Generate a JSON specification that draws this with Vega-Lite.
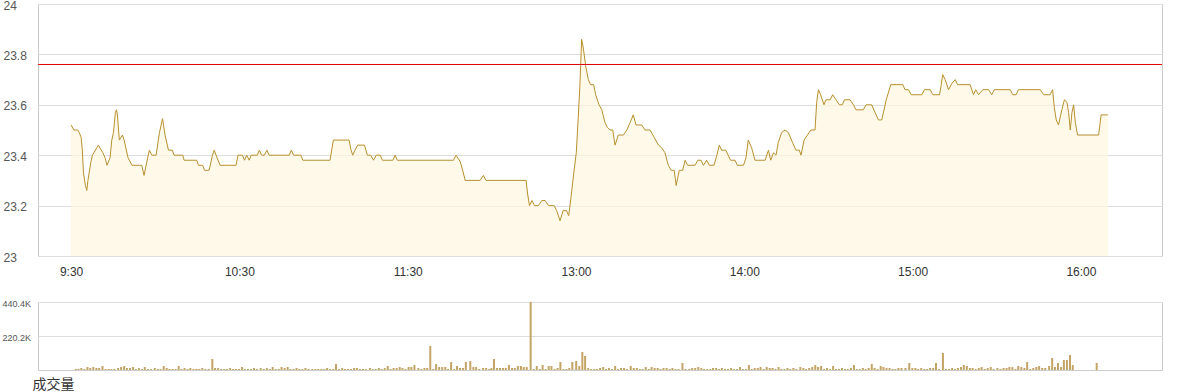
{
"$schema": "https://vega.github.io/schema/vega-lite/v6.json",
"padding": {"left": 1, "top": -2, "right": 10, "bottom": 6},
"background": "white",
"bounds": "flush",
"spacing": 46,
"config": {
  "view": {"stroke": "#cccccc"},
  "font": "Liberation Sans",
  "axis": {"domain": false, "ticks": false, "tickSize": 0, "gridColor": "#dddddd", "gridWidth": 1, "labelFont": "Liberation Sans"}
},
"datasets": {
"price": [
{"t":0,"price":23.52},{"t":1,"price":23.50},{"t":2.4,"price":23.50},{"t":2.9,"price":23.49},{"t":3.6,"price":23.47},{"t":4,"price":23.42},{"t":4.4,"price":23.33},{"t":5.1,"price":23.28},{"t":5.6,"price":23.26},{"t":6,"price":23.30},{"t":7,"price":23.37},{"t":7.6,"price":23.40},{"t":9.2,"price":23.43},{"t":9.7,"price":23.44},{"t":11.3,"price":23.41},{"t":12.1,"price":23.39},{"t":12.8,"price":23.36},{"t":13.9,"price":23.39},{"t":14.5,"price":23.46},{"t":15.1,"price":23.49},{"t":15.8,"price":23.57},{"t":16.2,"price":23.58},{"t":16.5,"price":23.56},{"t":17.2,"price":23.46},{"t":18.3,"price":23.48},{"t":18.9,"price":23.46},{"t":20.3,"price":23.39},{"t":21.7,"price":23.36},{"t":25.2,"price":23.36},{"t":26,"price":23.32},{"t":27.3,"price":23.39},{"t":27.9,"price":23.42},{"t":28.8,"price":23.40},{"t":30.3,"price":23.40},{"t":31.5,"price":23.49},{"t":32.6,"price":23.545},{"t":33.5,"price":23.48},{"t":34.7,"price":23.42},{"t":36.1,"price":23.42},{"t":36.7,"price":23.40},{"t":39.8,"price":23.40},{"t":40.3,"price":23.38},{"t":44.8,"price":23.38},{"t":45.4,"price":23.36},{"t":46.9,"price":23.36},{"t":47.6,"price":23.34},{"t":49.2,"price":23.34},{"t":50.4,"price":23.40},{"t":51,"price":23.42},{"t":51.7,"price":23.40},{"t":53.1,"price":23.36},{"t":58.8,"price":23.36},{"t":59.5,"price":23.40},{"t":61.1,"price":23.40},{"t":61.8,"price":23.38},{"t":62.6,"price":23.40},{"t":63.5,"price":23.38},{"t":64.2,"price":23.40},{"t":66.4,"price":23.40},{"t":67.1,"price":23.42},{"t":67.9,"price":23.40},{"t":68.9,"price":23.40},{"t":69.8,"price":23.42},{"t":70.6,"price":23.40},{"t":77.8,"price":23.40},{"t":78.5,"price":23.42},{"t":79.3,"price":23.40},
{"t":81.9,"price":23.40},{"t":82.6,"price":23.38},{"t":92.3,"price":23.38},{"t":93.5,"price":23.46},{"t":99.1,"price":23.46},{"t":99.8,"price":23.42},{"t":100.4,"price":23.40},{"t":101.2,"price":23.42},{"t":102.2,"price":23.44},{"t":104.6,"price":23.44},{"t":105.6,"price":23.40},{"t":106.8,"price":23.40},{"t":107.8,"price":23.38},{"t":108.8,"price":23.40},{"t":110.2,"price":23.40},{"t":111,"price":23.38},{"t":114.7,"price":23.38},{"t":115.5,"price":23.40},{"t":116.3,"price":23.38},{"t":136.3,"price":23.38},{"t":137.2,"price":23.40},{"t":138.7,"price":23.375},{"t":139.6,"price":23.34},{"t":140.5,"price":23.30},{"t":145.8,"price":23.30},{"t":147,"price":23.32},{"t":147.9,"price":23.30},{"t":162.2,"price":23.30},{"t":162.7,"price":23.25},{"t":163.4,"price":23.20},{"t":164.3,"price":23.22},{"t":165.2,"price":23.20},{"t":166.6,"price":23.20},{"t":167.8,"price":23.22},{"t":169,"price":23.22},{"t":170.2,"price":23.20},{"t":172.2,"price":23.20},{"t":173.1,"price":23.18},{"t":174.3,"price":23.14},{"t":175.4,"price":23.18},{"t":176.6,"price":23.18},{"t":177.4,"price":23.16},{"t":178.3,"price":23.24},{"t":179.2,"price":23.33},{"t":180.1,"price":23.41},{"t":180.8,"price":23.55},{"t":181.4,"price":23.68},{"t":182,"price":23.86},{"t":182.6,"price":23.825},{"t":183.5,"price":23.75},{"t":184.4,"price":23.70},{"t":185.2,"price":23.68},{"t":186.3,"price":23.68},{"t":187,"price":23.64},{"t":188.2,"price":23.60},{"t":189.2,"price":23.58},{"t":190.3,"price":23.53},{"t":191.2,"price":23.51},{"t":192.1,"price":23.50},{"t":193.1,"price":23.50},{"t":193.9,"price":23.44},{"t":195.1,"price":23.48},{"t":196.9,"price":23.48},{"t":198.1,"price":23.50},{"t":199.3,"price":23.53},{"t":200.4,"price":23.56},{"t":201.4,"price":23.52},{"t":203.4,"price":23.52},{"t":204.6,"price":23.50},{"t":206.4,"price":23.50},{"t":207.9,"price":23.47},{"t":209.4,"price":23.44},{"t":210.5,"price":23.43},{"t":211.7,"price":23.41},{"t":212.9,"price":23.36},{"t":213.9,"price":23.34},{"t":215,"price":23.34},{"t":215.7,"price":23.28},{"t":216.8,"price":23.34},{"t":218,"price":23.34},{"t":218.9,"price":23.38},{"t":219.8,"price":23.36},{"t":222.4,"price":23.36},{"t":223.4,"price":23.38},{"t":224.6,"price":23.38},{"t":225.4,"price":23.36},{"t":226.6,"price":23.38},{"t":227.5,"price":23.36},{"t":229.2,"price":23.36},{"t":230.2,"price":23.40},{"t":231.1,"price":23.44},{"t":231.9,"price":23.42},{"t":233.4,"price":23.42},{"t":235.1,"price":23.38},{"t":236.7,"price":23.38},{"t":237.5,"price":23.36},{"t":239.7,"price":23.36},{"t":240.6,"price":23.39},{"t":241.4,"price":23.46},{"t":242.6,"price":23.43},{"t":243.8,"price":23.38},{"t":247.4,"price":23.38},{"t":248.6,"price":23.42},{"t":249.4,"price":23.38},{"t":250.4,"price":23.41},{"t":251.3,"price":23.40},{"t":252.1,"price":23.45},{"t":253.3,"price":23.49},{"t":254.5,"price":23.50},{"t":255.7,"price":23.49},{"t":257.2,"price":23.45},{"t":258.4,"price":23.42},{"t":259.6,"price":23.42},{"t":260.2,"price":23.40},{"t":261.3,"price":23.46},{"t":262.5,"price":23.48},{"t":263.7,"price":23.50},{"t":265.2,"price":23.50},{"t":265.8,"price":23.61},{"t":266.4,"price":23.66},{"t":267.2,"price":23.64},{"t":268.4,"price":23.60},{"t":269.1,"price":23.62},{"t":270.6,"price":23.62},{"t":271.5,"price":23.64},{"t":272.7,"price":23.62},{"t":273.9,"price":23.60},{"t":274.9,"price":23.60},{"t":275.7,"price":23.62},{"t":277.7,"price":23.62},{"t":278.9,"price":23.60},{"t":279.8,"price":23.58},{"t":282.4,"price":23.58},{"t":283.4,"price":23.60},{"t":285.4,"price":23.60},{"t":286.6,"price":23.57},{"t":287.8,"price":23.54},{"t":289,"price":23.54},{"t":290.6,"price":23.62},{"t":292.2,"price":23.68},{"t":296.5,"price":23.68},{"t":297.3,"price":23.66},{"t":298.5,"price":23.66},{"t":299.5,"price":23.64},{"t":303.3,"price":23.64},{"t":304.2,"price":23.66},{"t":306.3,"price":23.66},{"t":307.2,"price":23.64},{"t":309.6,"price":23.64},{"t":310.2,"price":23.68},{"t":310.7,"price":23.72},{"t":311.6,"price":23.70},{"t":312.8,"price":23.66},{"t":314,"price":23.685},{"t":315.2,"price":23.70},{"t":316,"price":23.68},{"t":320.5,"price":23.68},{"t":321.7,"price":23.64},{"t":322.5,"price":23.66},{"t":323.5,"price":23.64},{"t":325,"price":23.66},{"t":327.1,"price":23.66},{"t":328.2,"price":23.64},{"t":329.1,"price":23.66},{"t":334.8,"price":23.66},{"t":335.7,"price":23.64},{"t":336.9,"price":23.64},{"t":337.7,"price":23.66},{"t":345.5,"price":23.66},{"t":346.7,"price":23.64},{"t":349,"price":23.64},{"t":349.9,"price":23.66},{"t":350.5,"price":23.59},{"t":351.2,"price":23.54},{"t":352,"price":23.52},{"t":353.2,"price":23.58},{"t":354.1,"price":23.62},{"t":355,"price":23.61},{"t":355.6,"price":23.57},{"t":356.2,"price":23.50},{"t":356.8,"price":23.57},{"t":357.4,"price":23.60},{"t":358,"price":23.53},{"t":358.8,"price":23.48},{"t":366.3,"price":23.48},{"t":367.2,"price":23.56},{"t":369.6,"price":23.56}
],
"ref": [{"prevClose": 23.76}],
"vol": [
{"t":0,"volume":6476},{"t":1,"volume":6476},{"t":2,"volume":12950},{"t":3.1,"volume":6476},{"t":4.2,"volume":19430},{"t":5.2,"volume":12950},{"t":6.3,"volume":19430},{"t":7.4,"volume":12950},{"t":8.4,"volume":12950},{"t":9.6,"volume":25900},{"t":10.7,"volume":6476},{"t":11.8,"volume":6476},{"t":12.8,"volume":6476},{"t":13.9,"volume":6476},{"t":15.2,"volume":12950},{"t":16.3,"volume":19430},{"t":17.4,"volume":25900},{"t":18.4,"volume":12950},{"t":19.5,"volume":12950},{"t":20.6,"volume":19430},{"t":21.6,"volume":6476},{"t":22.7,"volume":12950},{"t":23.8,"volume":6476},{"t":24.8,"volume":19430},{"t":25.9,"volume":6476},{"t":27,"volume":6476},{"t":28.4,"volume":12950},{"t":29.5,"volume":6476},{"t":30.5,"volume":6476},{"t":31.6,"volume":25900},{"t":32.7,"volume":12950},{"t":33.7,"volume":6476},{"t":34.8,"volume":6476},{"t":35.9,"volume":6476},{"t":37,"volume":25900},{"t":38,"volume":6476},{"t":39.1,"volume":12950},{"t":40.2,"volume":6476},{"t":41.2,"volume":12950},{"t":42.3,"volume":6476},{"t":43.4,"volume":6476},{"t":44.4,"volume":6476},{"t":45.5,"volume":12950},{"t":46.6,"volume":6476},{"t":47.8,"volume":6476},{"t":49.1,"volume":71240},{"t":50.1,"volume":12950},{"t":51.2,"volume":12950},{"t":52.3,"volume":6476},{"t":53.4,"volume":6476},{"t":54.4,"volume":6476},{"t":55.5,"volume":12950},{"t":56.6,"volume":6476},{"t":57.6,"volume":6476},{"t":58.7,"volume":6476},{"t":59.8,"volume":19430},{"t":60.8,"volume":6476},{"t":61.9,"volume":6476},{"t":63,"volume":6476},{"t":64.1,"volume":12950},{"t":65.1,"volume":6476},{"t":66.5,"volume":12950},{"t":67.6,"volume":6476},{"t":68.7,"volume":12950},{"t":69.8,"volume":6476},{"t":70.8,"volume":19430},{"t":71.9,"volume":6476},
{"t":73,"volume":6476},{"t":74,"volume":19430},{"t":75.1,"volume":12950},{"t":76.2,"volume":19430},{"t":77.2,"volume":6476},{"t":78.3,"volume":6476},{"t":79.4,"volume":12950},{"t":80.4,"volume":6476},{"t":81.5,"volume":6476},{"t":82.6,"volume":12950},{"t":83.7,"volume":6476},{"t":85.1,"volume":6476},{"t":86.2,"volume":6476},{"t":87.2,"volume":6476},{"t":88.3,"volume":6476},{"t":89.4,"volume":6476},{"t":90.4,"volume":12950},{"t":91.5,"volume":6476},{"t":92.6,"volume":6476},{"t":93.6,"volume":38860},{"t":94.7,"volume":6476},{"t":95.8,"volume":12950},{"t":96.8,"volume":6476},{"t":97.9,"volume":6476},{"t":99,"volume":6476},{"t":100.1,"volume":12950},{"t":101.1,"volume":12950},{"t":102.2,"volume":6476},{"t":103.3,"volume":6476},{"t":104.3,"volume":6476},{"t":105.8,"volume":12950},{"t":106.8,"volume":6476},{"t":107.9,"volume":6476},{"t":109,"volume":12950},{"t":110,"volume":6476},{"t":111.1,"volume":12950},{"t":112.2,"volume":25900},{"t":113.2,"volume":6476},{"t":114.3,"volume":12950},{"t":115.4,"volume":12950},{"t":116.5,"volume":19430},{"t":117.5,"volume":12950},{"t":118.6,"volume":6476},{"t":119.7,"volume":19430},{"t":120.7,"volume":19430},{"t":121.8,"volume":32380},{"t":123.2,"volume":12950},{"t":124.3,"volume":6476},{"t":125.4,"volume":12950},{"t":126.4,"volume":12950},{"t":127.5,"volume":155420},{"t":128.6,"volume":6476},{"t":129.6,"volume":38860},{"t":130.7,"volume":19430},{"t":131.8,"volume":19430},{"t":132.9,"volume":19430},{"t":133.9,"volume":6476},{"t":135,"volume":51810},{"t":136.1,"volume":6476},{"t":137.1,"volume":25900},{"t":138.2,"volume":12950},{"t":139.3,"volume":12950},{"t":140.3,"volume":51810},{"t":141.9,"volume":58290},{"t":143,"volume":19430},{"t":144,"volume":19430},{"t":145.1,"volume":6476},
{"t":146.5,"volume":12950},{"t":147.6,"volume":12950},{"t":148.7,"volume":6476},{"t":149.5,"volume":12950},{"t":150.4,"volume":71240},{"t":151.5,"volume":12950},{"t":152.6,"volume":12950},{"t":153.7,"volume":12950},{"t":154.7,"volume":12950},{"t":155.8,"volume":32380},{"t":156.9,"volume":12950},{"t":157.9,"volume":12950},{"t":159,"volume":25900},{"t":160.1,"volume":25900},{"t":161.1,"volume":19430},{"t":162.2,"volume":19430},{"t":163.6,"volume":440400},{"t":164.7,"volume":6476},{"t":165.8,"volume":25900},{"t":166.9,"volume":6476},{"t":167.9,"volume":32380},{"t":169,"volume":6476},{"t":170.1,"volume":25900},{"t":171.1,"volume":25900},{"t":172.2,"volume":6476},{"t":173.3,"volume":12950},{"t":174.3,"volume":51810},{"t":175.4,"volume":6476},{"t":176.5,"volume":6476},{"t":177.5,"volume":12950},{"t":178.6,"volume":51810},{"t":180,"volume":58290},{"t":181.1,"volume":25900},{"t":182.2,"volume":116570},{"t":183.2,"volume":90660},{"t":184.3,"volume":12950},{"t":185.4,"volume":6476},{"t":186.5,"volume":6476},{"t":187.5,"volume":6476},{"t":188.6,"volume":12950},{"t":189.7,"volume":19430},{"t":190.7,"volume":6476},{"t":191.8,"volume":12950},{"t":192.9,"volume":6476},{"t":194,"volume":25900},{"t":195,"volume":6476},{"t":196.1,"volume":12950},{"t":197.2,"volume":12950},{"t":198.2,"volume":6476},{"t":199.6,"volume":25900},{"t":200.7,"volume":12950},{"t":201.8,"volume":12950},{"t":202.9,"volume":6476},{"t":203.9,"volume":6476},{"t":205,"volume":19430},{"t":206.1,"volume":6476},{"t":207.1,"volume":19430},{"t":208.2,"volume":12950},{"t":209.3,"volume":12950},{"t":210.3,"volume":6476},{"t":211.4,"volume":12950},{"t":212.5,"volume":12950},{"t":213.6,"volume":6476},{"t":214.6,"volume":12950},{"t":215.7,"volume":6476},{"t":216.8,"volume":6476},{"t":218.2,"volume":45330},{"t":219.3,"volume":6476},
{"t":220.7,"volume":6476},{"t":221.7,"volume":12950},{"t":222.8,"volume":12950},{"t":223.9,"volume":19430},{"t":225,"volume":12950},{"t":226,"volume":6476},{"t":227.1,"volume":6476},{"t":228.2,"volume":6476},{"t":229.2,"volume":12950},{"t":230.3,"volume":12950},{"t":231.4,"volume":6476},{"t":232.4,"volume":12950},{"t":233.5,"volume":6476},{"t":234.6,"volume":6476},{"t":235.7,"volume":12950},{"t":236.7,"volume":6476},{"t":237.8,"volume":6476},{"t":238.9,"volume":19430},{"t":239.9,"volume":6476},{"t":241,"volume":6476},{"t":242.1,"volume":32380},{"t":243.1,"volume":6476},{"t":244.2,"volume":12950},{"t":245.3,"volume":12950},{"t":246.3,"volume":19430},{"t":247.4,"volume":6476},{"t":248.5,"volume":19430},{"t":249.6,"volume":12950},{"t":250.6,"volume":12950},{"t":251.7,"volume":6476},{"t":252.8,"volume":19430},{"t":253.8,"volume":6476},{"t":254.9,"volume":6476},{"t":256,"volume":12950},{"t":257,"volume":6476},{"t":258.1,"volume":12950},{"t":259.2,"volume":6476},{"t":260.6,"volume":19430},{"t":261.7,"volume":12950},{"t":262.7,"volume":6476},{"t":263.8,"volume":12950},{"t":264.9,"volume":19430},{"t":266,"volume":32380},{"t":267,"volume":19430},{"t":268.1,"volume":25900},{"t":269.2,"volume":6476},{"t":270.2,"volume":12950},{"t":271.3,"volume":6476},{"t":272.4,"volume":25900},{"t":273.4,"volume":6476},{"t":274.5,"volume":6476},{"t":275.6,"volume":12950},{"t":276.7,"volume":6476},{"t":277.7,"volume":6476},{"t":278.8,"volume":12950},{"t":279.9,"volume":32380},{"t":280.9,"volume":6476},{"t":282,"volume":6476},{"t":283.1,"volume":12950},{"t":284.1,"volume":6476},{"t":285.2,"volume":12950},{"t":286.3,"volume":38860},{"t":287.3,"volume":12950},{"t":288.4,"volume":6476},{"t":289.5,"volume":25900},{"t":290.5,"volume":19430},{"t":291.6,"volume":12950},{"t":292.7,"volume":12950},{"t":293.8,"volume":6476},
{"t":294.8,"volume":6476},{"t":295.9,"volume":12950},{"t":297,"volume":12950},{"t":298.4,"volume":12950},{"t":299.8,"volume":45330},{"t":300.9,"volume":12950},{"t":302,"volume":12950},{"t":303,"volume":6476},{"t":304.1,"volume":12950},{"t":305.2,"volume":6476},{"t":306.2,"volume":6476},{"t":307.3,"volume":12950},{"t":308.4,"volume":12950},{"t":309.4,"volume":45330},{"t":310.5,"volume":6476},{"t":311.9,"volume":110090},{"t":313,"volume":6476},{"t":314.1,"volume":6476},{"t":315.2,"volume":12950},{"t":316.2,"volume":6476},{"t":317.3,"volume":12950},{"t":318.4,"volume":19430},{"t":319.4,"volume":32380},{"t":320.5,"volume":25900},{"t":321.6,"volume":12950},{"t":322.6,"volume":12950},{"t":323.7,"volume":6476},{"t":324.8,"volume":12950},{"t":325.8,"volume":19430},{"t":326.9,"volume":6476},{"t":328,"volume":12950},{"t":329.1,"volume":19430},{"t":330.1,"volume":6476},{"t":331.5,"volume":12950},{"t":332.6,"volume":6476},{"t":333.7,"volume":12950},{"t":334.8,"volume":12950},{"t":335.8,"volume":19430},{"t":336.9,"volume":19430},{"t":338,"volume":6476},{"t":339,"volume":25900},{"t":340.1,"volume":19430},{"t":341.2,"volume":12950},{"t":342.2,"volume":51810},{"t":343.3,"volume":6476},{"t":344.4,"volume":12950},{"t":345.5,"volume":19430},{"t":346.5,"volume":25900},{"t":347.6,"volume":12950},{"t":348.7,"volume":12950},{"t":350.1,"volume":25900},{"t":351.2,"volume":77710},{"t":352.2,"volume":19430},{"t":353.3,"volume":45330},{"t":354.4,"volume":19430},{"t":355.4,"volume":64760},{"t":356.5,"volume":64760},{"t":357.6,"volume":97140},{"t":358.6,"volume":32380},{"t":367.2,"volume":45330}
]
},
"vconcat": [
  {
    "width": 1124,
    "height": 252,
    "layer": [
      {
        "data": {"name": "price"},
        "mark": {"type": "area", "color": "#fff7e1", "interpolate": "linear", "line": {"color": "#b8912d", "strokeWidth": 1}},
        "encoding": {
          "x": {"field": "t", "type": "quantitative",
                "scale": {"domain": [-11.8, 388.9], "nice": false, "zero": false},
                "axis": {"values": [0, 60, 120, 180, 240, 300, 360], "grid": false, "title": null,
                         "labelExpr": "['9:30','10:30','11:30','13:00','14:00','15:00','16:00'][round(datum.value/60)]",
                         "labelFontSize": 12, "labelColor": "#333333", "labelPadding": 10}},
          "y": {"field": "price", "type": "quantitative",
                "scale": {"domain": [23, 24], "nice": false, "zero": false},
                "axis": {"values": [23, 23.2, 23.4, 23.6, 23.8, 24], "format": "~g", "title": null, "grid": true,
                         "labelAlign": "left", "labelPadding": 35, "labelFontSize": 12, "labelColor": "#555555", "labelOffset": 1}},
          "y2": {"datum": 23}
        }
      },
      {
        "data": {"name": "ref"},
        "mark": {"type": "rule", "color": "#e00000", "strokeWidth": 1},
        "encoding": {"y": {"field": "prevClose", "type": "quantitative"}}
      }
    ]
  },
  {
    "width": 1124,
    "height": 68,
    "data": {"name": "vol"},
    "mark": {"type": "bar", "color": "#c4a464", "width": 2},
    "encoding": {
      "x": {"field": "t", "type": "quantitative",
            "scale": {"domain": [-11.8, 388.9], "nice": false, "zero": false},
            "axis": {"labels": false, "grid": false, "title": "成交量",
                     "titleFont": "Noto Sans CJK SC", "titleFontSize": 14, "titleFontWeight": "normal", "titleColor": "#333333",
                     "titleAnchor": "start", "titleAlign": "left", "titleBaseline": "middle", "titleX": -6, "titleY": 14}},
      "y": {"field": "volume", "type": "quantitative",
            "scale": {"domain": [0, 440400], "nice": false},
            "axis": {"values": [220200, 440400], "title": null, "grid": true,
                     "labelExpr": "format(datum.value/1000, '.1f') + 'K'",
                     "labelAlign": "left", "labelPadding": 36, "labelFontSize": 9, "labelColor": "#555555", "labelOffset": 1}}
    }
  }
]
}
